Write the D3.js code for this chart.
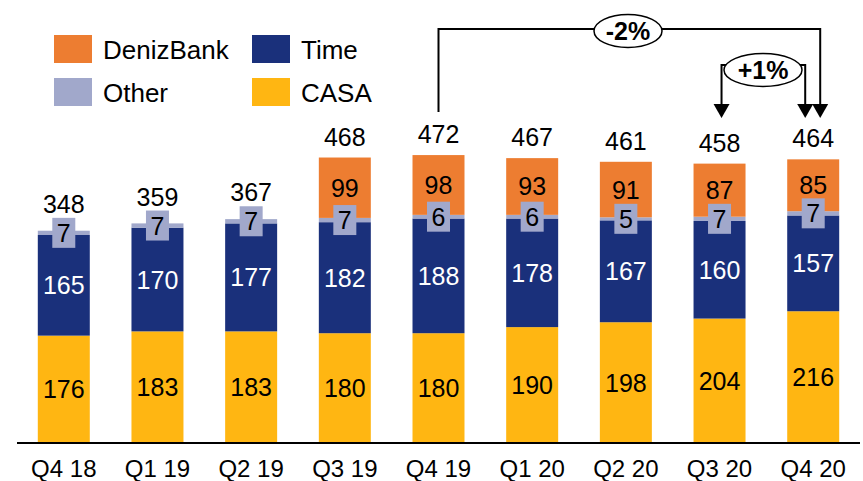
<!DOCTYPE html>
<html>
<head>
<meta charset="utf-8">
<script src="https://cdn.jsdelivr.net/npm/d3@7"></script>
<style>
  body { margin: 0; background: #fff; }
  text { font-family: "Liberation Sans", Arial, sans-serif; }
</style>
</head>
<body>
<div id="chart"></div>
<script>
var categories = ["Q4 18", "Q1 19", "Q2 19", "Q3 19", "Q4 19", "Q1 20", "Q2 20", "Q3 20", "Q4 20"];
var casa = [176, 183, 183, 180, 180, 190, 198, 204, 216];
var time = [165, 170, 177, 182, 188, 178, 167, 160, 157];
var other = [7, 7, 7, 7, 6, 6, 5, 7, 7];
var deniz = [0, 0, 0, 99, 98, 93, 91, 87, 85];
var totals = [348, 359, 367, 468, 472, 467, 461, 458, 464];

var seriesKeys = ["casa", "time", "other", "deniz"];
var seriesNames = {deniz: "DenizBank", time: "Time", other: "Other", casa: "CASA"};
var colors = {deniz: "#ED7D31", time: "#1A307B", other: "#A1A8CB", casa: "#FFB612"};

var width = 863, height = 481;

var rows = categories.map(function(c, i) {
  return {cat: c, casa: casa[i], time: time[i], other: other[i], deniz: deniz[i], total: totals[i]};
});

var x = d3.scaleBand().domain(categories).range([17, 860]).paddingInner(0.445).paddingOuter(0.222);
var y = d3.scaleLinear().domain([0, 500]).range([443, 138]);

var svg = d3.select("#chart").append("svg")
  .attr("width", width).attr("height", height);

var stack = d3.stack().keys(seriesKeys)(rows);

/* bars */
svg.selectAll("g.series")
  .data(stack).enter()
  .append("g")
  .attr("class", "series")
  .attr("fill", d => colors[d.key])
  .selectAll("rect")
  .data(d => d).enter()
  .append("rect")
  .attr("x", d => x(d.data.cat))
  .attr("width", x.bandwidth())
  .attr("y", d => y(d[1]))
  .attr("height", d => y(d[0]) - y(d[1]));

/* axis line */
svg.append("line")
  .attr("x1", 17).attr("x2", 860)
  .attr("y1", 443).attr("y2", 443)
  .attr("stroke", "#000").attr("stroke-width", 2);

/* x labels */
svg.selectAll("text.xlab")
  .data(categories).enter()
  .append("text")
  .attr("class", "xlab")
  .attr("x", d => x(d) + x.bandwidth() / 2)
  .attr("y", 477)
  .attr("text-anchor", "middle")
  .attr("font-size", 24)
  .text(d => d);

/* segment labels */
var labelColor = {casa: "#000", time: "#fff", deniz: "#000"};
stack.forEach(function(s) {
  s.forEach(function(d) {
    var v = d.data[s.key];
    if (!v) return;
    var cx = x(d.data.cat) + x.bandwidth() / 2;
    var cy = (y(d[0]) + y(d[1])) / 2;
    if (s.key === "other") {
      svg.append("rect")
        .attr("x", cx - 11.5).attr("y", cy - 15)
        .attr("width", 23).attr("height", 30)
        .attr("fill", colors.other);
    }
    svg.append("text")
      .attr("x", cx).attr("y", cy + 9)
      .attr("text-anchor", "middle")
      .attr("font-size", 25)
      .attr("fill", s.key === "other" ? "#000" : labelColor[s.key])
      .text(v);
  });
});

/* totals */
var topS = stack[stack.length - 1];
var otherS = stack[2];
svg.selectAll("text.total")
  .data(rows).enter()
  .append("text")
  .attr("class", "total")
  .attr("x", d => x(d.cat) + x.bandwidth() / 2)
  .attr("y", function(d, i) {
    var barTop = y(topS[i][1]);
    var boxTop = (y(otherS[i][0]) + y(otherS[i][1])) / 2 - 15;
    return Math.min(barTop - 12, boxTop - 5);
  })
  .attr("text-anchor", "middle")
  .attr("font-size", 25)
  .text(d => d.total);

/* legend */
var legendItems = [
  {key: "deniz", x: 54, y: 35},
  {key: "time", x: 252, y: 35},
  {key: "other", x: 54, y: 78},
  {key: "casa", x: 252, y: 78}
];
var lg = svg.selectAll("g.legend")
  .data(legendItems).enter()
  .append("g")
  .attr("class", "legend")
  .attr("transform", d => `translate(${d.x},${d.y})`);
lg.append("rect")
  .attr("width", 38).attr("height", 28)
  .attr("fill", d => colors[d.key]);
lg.append("text")
  .attr("x", 49).attr("y", 24)
  .attr("font-size", 26)
  .text(d => seriesNames[d.key]);

/* growth annotations */
function bandCenter(cat) { return x(cat) + x.bandwidth() / 2; }
function arrowHead(px, py) {
  svg.append("path")
    .attr("d", `M${px - 8},${py - 14}L${px + 8},${py - 14}L${px},${py}Z`)
    .attr("fill", "#000");
}

var xa = bandCenter("Q4 19"), xb = bandCenter("Q4 20") + 7, yTop = 29;
svg.append("path")
  .attr("d", `M${xa},112V${yTop}H${xb}V104`)
  .attr("fill", "none").attr("stroke", "#000").attr("stroke-width", 2);
arrowHead(xb, 118);

var xc = bandCenter("Q3 20") + 2, xd = bandCenter("Q4 20") - 8, yMid = 65;
svg.append("path")
  .attr("d", `M${xc},104V${yMid}H${xd}V104`)
  .attr("fill", "none").attr("stroke", "#000").attr("stroke-width", 2);
arrowHead(xc, 118);
arrowHead(xd, 118);

function bubble(px, py, rx, label) {
  svg.append("ellipse")
    .attr("cx", px).attr("cy", py).attr("rx", rx).attr("ry", 16.5)
    .attr("fill", "#fff").attr("stroke", "#000").attr("stroke-width", 1.5);
  svg.append("text")
    .attr("x", px).attr("y", py + 9)
    .attr("text-anchor", "middle")
    .attr("font-size", 25).attr("font-weight", "bold")
    .text(label);
}
bubble(628, 31, 34, "-2%");
bubble(763, 70, 39, "+1%");
</script>
</body>
</html>
